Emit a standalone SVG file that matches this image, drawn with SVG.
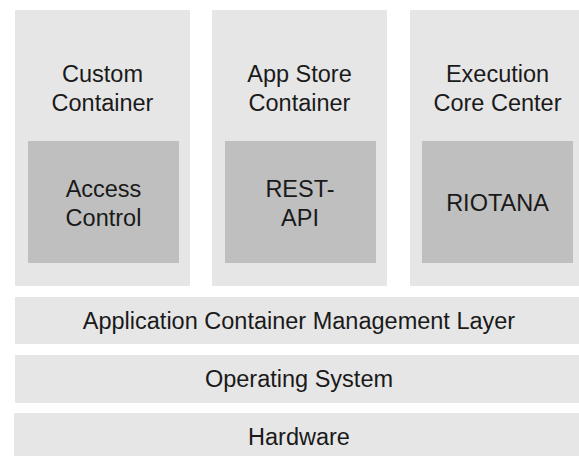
<svg xmlns="http://www.w3.org/2000/svg" width="579" height="456" viewBox="0 0 579 456">
<style>
.outer{fill:#e6e6e6}
.inner{fill:#bfbfbf}
.t{font-family:"Liberation Sans",Arial,sans-serif;font-size:23.5px;fill:#1a1a1a;text-anchor:middle}
</style>
<rect width="579" height="456" fill="#ffffff"/>
<g id="custom-container">
<rect class="outer" x="15" y="10" width="175" height="276"/>
<text class="t" x="102.5" y="81.5">Custom</text>
<text class="t" x="102.5" y="110.5">Container</text>
<g id="access-control">
<rect class="inner" x="28" y="141" width="151" height="122"/>
<text class="t" x="103.5" y="196.5">Access</text>
<text class="t" x="103.5" y="225.5">Control</text>
</g>
</g>
<g id="app-store-container">
<rect class="outer" x="212" y="10" width="175" height="276"/>
<text class="t" x="299.5" y="81.5">App Store</text>
<text class="t" x="299.5" y="110.5">Container</text>
<g id="rest-api">
<rect class="inner" x="225" y="141" width="151" height="122"/>
<text class="t" x="300" y="196.5">REST-</text>
<text class="t" x="300" y="225.5">API</text>
</g>
</g>
<g id="execution-core-center">
<rect class="outer" x="410" y="10" width="175" height="276"/>
<text class="t" x="497.5" y="81.5">Execution</text>
<text class="t" x="497.5" y="110.5">Core Center</text>
<g id="riotana">
<rect class="inner" x="422" y="141" width="151" height="122"/>
<text class="t" x="497.5" y="210.5">RIOTANA</text>
</g>
</g>
<g id="acml">
<rect class="outer" x="15" y="297" width="570" height="47"/>
<text class="t" x="299" y="329">Application Container Management Layer</text>
</g>
<g id="os">
<rect class="outer" x="15" y="355" width="570" height="48"/>
<text class="t" x="299" y="387">Operating System</text>
</g>
<g id="hardware">
<rect class="outer" x="14" y="413" width="571" height="48"/>
<text class="t" x="299" y="445">Hardware</text>
</g>
<g id="connectors"></g>
</svg>
